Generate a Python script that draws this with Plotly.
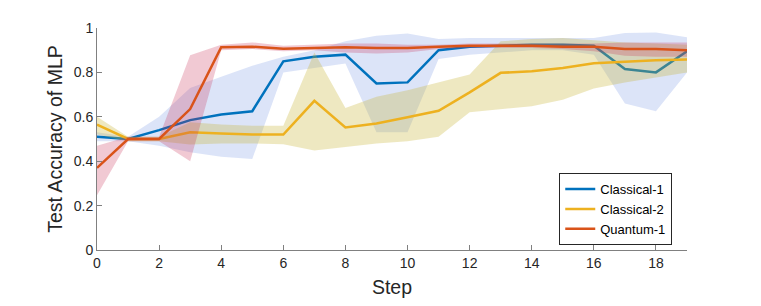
import plotly.graph_objects as go

steps = list(range(20))

classical1_mean = [0.51, 0.50, 0.54, 0.585, 0.61, 0.625, 0.85, 0.87, 0.88, 0.75,
                   0.755, 0.90, 0.915, 0.92, 0.925, 0.925, 0.92, 0.815, 0.80, 0.895]
classical1_upper = [0.53, 0.51, 0.60, 0.73, 0.78, 0.83, 0.87, 0.90, 0.94, 0.965,
                    0.975, 0.95, 0.955, 0.955, 0.955, 0.955, 0.955, 0.977, 0.98, 0.958]
classical1_lower = [0.49, 0.49, 0.47, 0.44, 0.42, 0.41, 0.80, 0.82, 0.84, 0.53,
                    0.53, 0.86, 0.88, 0.89, 0.90, 0.90, 0.88, 0.66, 0.625, 0.80]

classical2_mean = [0.565, 0.50, 0.50, 0.53, 0.525, 0.52, 0.52, 0.672, 0.552, 0.57,
                   0.598, 0.627, 0.71, 0.798, 0.805, 0.82, 0.841, 0.848, 0.855, 0.858]
classical2_upper = [0.60, 0.51, 0.51, 0.575, 0.565, 0.56, 0.56, 0.89, 0.64, 0.69,
                    0.72, 0.755, 0.79, 0.94, 0.95, 0.955, 0.944, 0.935, 0.93, 0.925]
classical2_lower = [0.52, 0.49, 0.49, 0.475, 0.48, 0.48, 0.476, 0.448, 0.465, 0.48,
                    0.49, 0.51, 0.62, 0.634, 0.648, 0.677, 0.727, 0.755, 0.777, 0.80]

quantum1_mean = [0.37, 0.50, 0.50, 0.635, 0.913, 0.916, 0.906, 0.91, 0.913, 0.91,
                 0.91, 0.915, 0.92, 0.92, 0.92, 0.915, 0.915, 0.905, 0.905, 0.90]
quantum1_upper = [0.47, 0.51, 0.51, 0.877, 0.925, 0.935, 0.92, 0.925, 0.93, 0.93,
                  0.925, 0.925, 0.93, 0.93, 0.93, 0.93, 0.93, 0.935, 0.935, 0.935]
quantum1_lower = [0.247, 0.49, 0.49, 0.40, 0.90, 0.905, 0.895, 0.90, 0.89, 0.885,
                  0.89, 0.905, 0.91, 0.91, 0.91, 0.905, 0.895, 0.875, 0.87, 0.87]

series = [
    ("Classical-1", classical1_mean, classical1_upper, classical1_lower,
     "#0072BD", "rgba(80,120,220,0.2)"),
    ("Classical-2", classical2_mean, classical2_upper, classical2_lower,
     "#EDB120", "rgba(200,180,50,0.3)"),
    ("Quantum-1", quantum1_mean, quantum1_upper, quantum1_lower,
     "#D95319", "rgba(200,40,80,0.25)"),
]

fig = go.Figure()
for name, mean, up, lo, col, fillcol in series:
    fig.add_trace(go.Scatter(
        x=steps + steps[::-1], y=up + lo[::-1], fill="toself",
        fillcolor=fillcol, line=dict(width=0), mode="lines",
        hoverinfo="skip", showlegend=False))
    fig.add_trace(go.Scatter(
        x=steps, y=mean, mode="lines", name=name,
        line=dict(color=col, width=2.5)))

axis_col = "#808080"
font_fam = "Liberation Sans, Arial, Helvetica, sans-serif"
fig.update_layout(
    width=753, height=298,
    margin=dict(l=89, r=74, t=15, b=50),
    paper_bgcolor="white", plot_bgcolor="white",
    font=dict(family=font_fam, size=14, color="#262626"),
    legend=dict(x=0.975, y=0.022, xanchor="right", yanchor="bottom",
                bordercolor="#262626", borderwidth=1, bgcolor="white",
                font=dict(size=13, color="#000"), tracegroupgap=0),
    xaxis=dict(range=[0, 19], tickvals=list(range(0, 19, 2)),
               showline=True, linecolor=axis_col, linewidth=1,
               ticks="inside", ticklen=5, tickcolor=axis_col,
               showgrid=False, zeroline=False,
               title=dict(text="Step", font=dict(size=19.5), standoff=10)),
    yaxis=dict(range=[0, 1], dtick=0.2,
               showline=True, linecolor=axis_col, linewidth=1,
               ticks="inside", ticklen=5, tickcolor=axis_col,
               showgrid=False, zeroline=False,
               title=dict(text="Test Accuracy of MLP", font=dict(size=19.5), standoff=5)),
)

fig.write_html("out.html")
